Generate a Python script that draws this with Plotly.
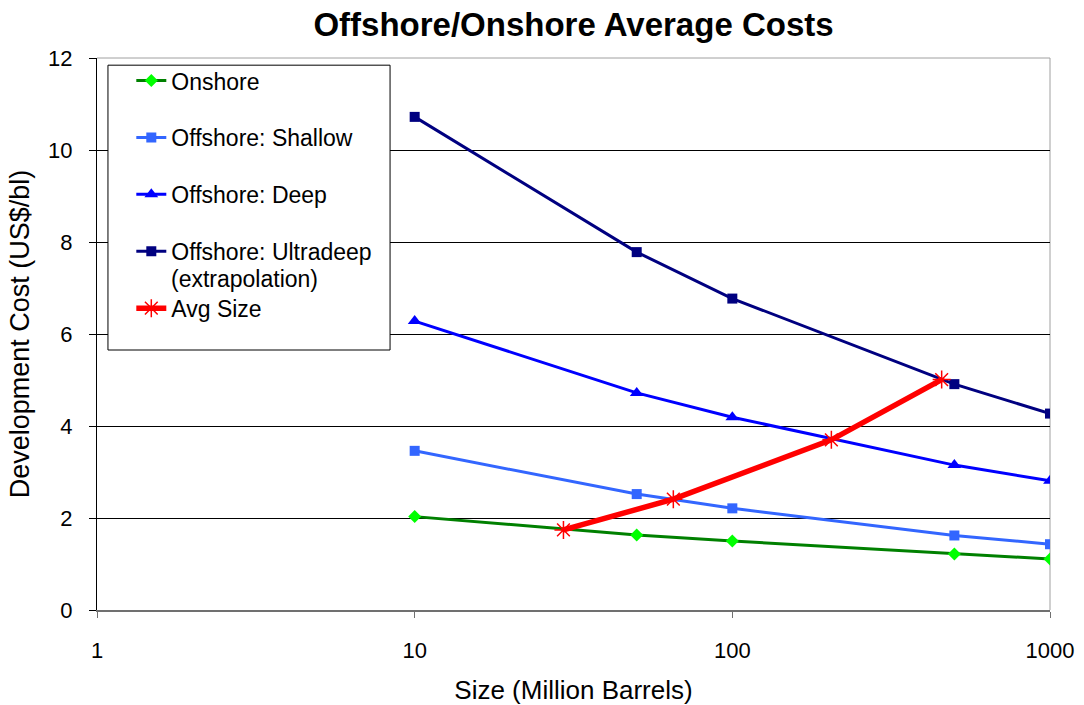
import plotly.graph_objects as go

# Field size (million barrels) for the cost curves
sizes = [10, 50, 100, 500, 1000]

# Development cost (US$/bl) per category
onshore = [2.03, 1.63, 1.50, 1.22, 1.11]
offshore_shallow = [3.46, 2.52, 2.21, 1.62, 1.43]
offshore_deep = [6.28, 4.72, 4.19, 3.15, 2.81]
offshore_ultradeep = [10.72, 7.78, 6.77, 4.91, 4.27]

# Average field size points
avg_size_x = [29.4, 65.2, 205, 456]
avg_size_y = [1.74, 2.41, 3.70, 5.01]

x_tick_vals = [1, 10, 100, 1000]
x_tick_text = ["1", "10", "100", "1000"]
y_tick_vals = [0, 2, 4, 6, 8, 10, 12]

FONT = "Liberation Sans, Arial, sans-serif"

fig = go.Figure()

series = [
    ("Onshore", onshore, "#008000", "diamond", "#00FF00", 10),
    ("Offshore: Shallow", offshore_shallow, "#3366FF", "square", "#3366FF", 10),
    ("Offshore: Deep", offshore_deep, "#0000FF", "triangle-up", "#0000FF", 12),
    ("Offshore: Ultradeep", offshore_ultradeep, "#000080", "square", "#000080", 10),
]
for name, vals, lc, sym, mc, ms in series:
    fig.add_trace(go.Scatter(
        x=sizes, y=vals, name=name, mode="lines+markers",
        line=dict(color=lc, width=3),
        marker=dict(symbol=sym, color=mc, size=ms, line=dict(width=0)),
        legendgroup=name,
    ))

fig.add_trace(go.Scatter(
    x=avg_size_x, y=avg_size_y, name="Avg Size", mode="lines+markers",
    line=dict(color="#FF0000", width=5.5),
    marker=dict(symbol="asterisk-open", color="#FF0000", size=15,
                line=dict(color="#FF0000", width=1.5)),
    legendgroup="Avg Size",
))

# Legend frame, plot border edges
fig.add_shape(type="rect", xref="paper", yref="paper",
              x0=0.0115, x1=0.3075, y0=0.471, y1=0.987,
              line=dict(color="black", width=1), fillcolor="white", layer="above")
fig.add_shape(type="line", xref="paper", yref="paper", x0=0, x1=1, y0=1, y1=1,
              line=dict(color="#A0A0A0", width=1), layer="above")
fig.add_shape(type="line", xref="paper", yref="paper", x0=1, x1=1, y0=0, y1=1,
              line=dict(color="#A0A0A0", width=1), layer="below")

# Second line of the Ultradeep legend label
fig.add_annotation(text="(extrapolation)", xref="paper", yref="paper",
                   x=0.0756, y=0.5996, xanchor="left", yanchor="middle",
                   showarrow=False, font=dict(family=FONT, size=23, color="black"))

fig.update_layout(
    width=1084, height=705,
    margin=dict(l=97, r=34, t=58, b=95),
    paper_bgcolor="white", plot_bgcolor="white",
    font=dict(family=FONT, color="black"),
    title=dict(text="<b>Offshore/Onshore Average Costs</b>", xref="paper", x=0.5,
               xanchor="center", y=0.965, yanchor="middle",
               font=dict(family=FONT, size=33, color="black")),
    showlegend=True,
    legend=dict(x=0.036, y=0.998, xanchor="left", yanchor="top",
                bgcolor="rgba(0,0,0,0)", borderwidth=0,
                font=dict(family=FONT, size=23, color="black"),
                tracegroupgap=24, traceorder="grouped"),
    xaxis=dict(type="log", range=[0, 3], tickvals=x_tick_vals, ticktext=x_tick_text,
               showgrid=False, showline=True, linecolor="#707070", linewidth=2,
               ticks="outside", ticklen=6, tickcolor="#707070",
               ticklabelstandoff=14, tickfont=dict(size=22),
               title=dict(text="Size (Million Barrels)", font=dict(size=26), standoff=24),
               zeroline=False, automargin=False),
    yaxis=dict(range=[0, 12], tickvals=y_tick_vals, showgrid=True, gridcolor="black",
               gridwidth=1, showline=True, linecolor="black", linewidth=1,
               ticks="outside", ticklen=7, tickcolor="black",
               ticklabelstandoff=12, tickfont=dict(size=22),
               title=dict(text="Development Cost (US$/bl)", font=dict(size=27), standoff=10),
               zeroline=False, automargin=False),
)

fig.write_html("out.html")
